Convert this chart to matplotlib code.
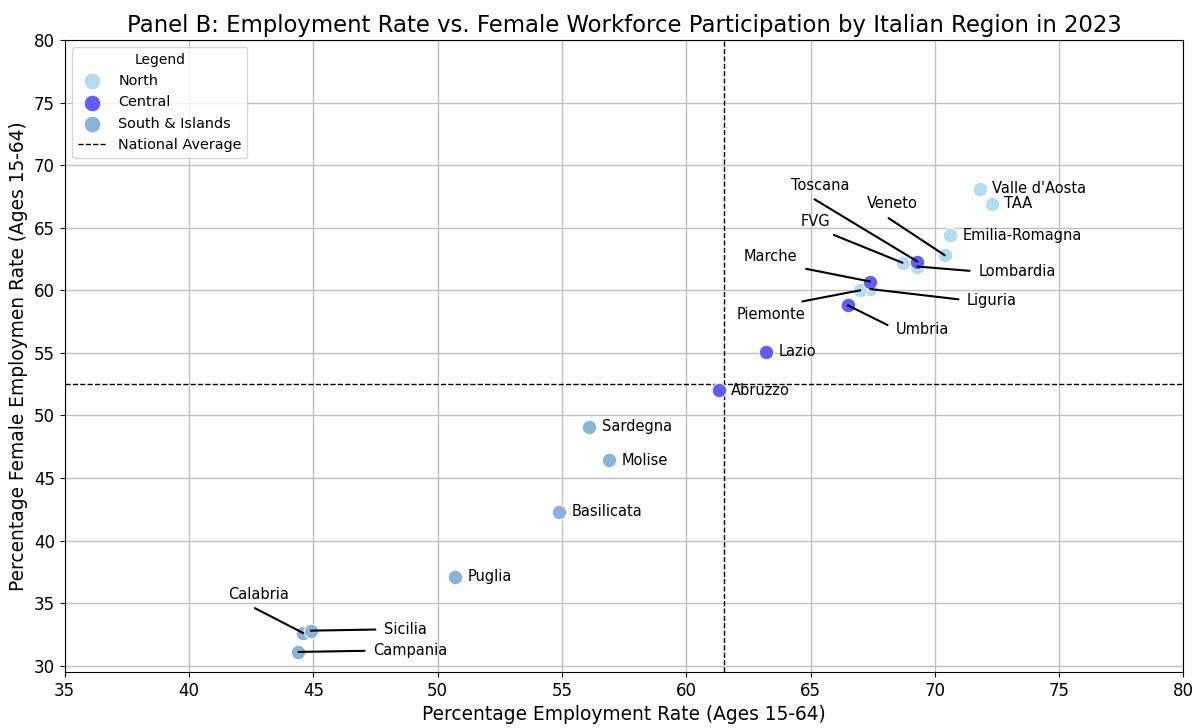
import matplotlib.pyplot as plt
from matplotlib.lines import Line2D

regions = ["Valle d'Aosta", "TAA", "Emilia-Romagna", "Veneto", "Toscana", "Lombardia",
           "FVG", "Marche", "Liguria", "Piemonte", "Umbria", "Lazio", "Abruzzo",
           "Sardegna", "Molise", "Basilicata", "Puglia", "Calabria", "Sicilia", "Campania"]
employment = [71.8, 72.3, 70.6, 70.4, 69.3, 69.3, 68.7, 67.4, 67.4, 67.0, 66.5, 63.2,
              61.3, 56.1, 56.9, 54.9, 50.7, 44.6, 44.9, 44.4]
female = [68.1, 66.9, 64.4, 62.8, 62.3, 61.9, 62.2, 60.7, 60.1, 60.0, 58.8, 55.1,
          52.0, 49.1, 46.4, 42.3, 37.1, 32.6, 32.8, 31.1]
area = ["North", "North", "North", "North", "Central", "North", "North", "Central",
        "North", "North", "Central", "Central", "Central", "South & Islands",
        "South & Islands", "South & Islands", "South & Islands", "South & Islands",
        "South & Islands", "South & Islands"]
nat_emp = 61.5
nat_fem = 52.5

colors = {"North": "#b3dcef", "Central": "#5f5fff", "South & Islands": "#88b4da"}

# where the crowded labels were pushed to (with leader lines)
label_pos = {
    "Veneto": (68.3, 66.9), "Toscana": (65.4, 68.4), "FVG": (65.2, 65.5),
    "Lombardia": (73.3, 61.5), "Marche": (63.4, 62.7), "Liguria": (72.3, 59.2),
    "Piemonte": (63.4, 58.1), "Umbria": (69.5, 56.9), "Calabria": (42.8, 35.7),
    "Sicilia": (48.7, 32.9), "Campania": (48.9, 31.2),
}

fig, ax = plt.subplots(figsize=(11.99, 7.28), dpi=100)
fig.subplots_adjust(left=0.054, right=0.987, top=0.945, bottom=0.077)

for grp in ["North", "Central", "South & Islands"]:
    xs = [x for x, a in zip(employment, area) if a == grp]
    ys = [y for y, a in zip(female, area) if a == grp]
    ax.scatter(xs, ys, s=110, color=colors[grp], edgecolor="white", linewidth=0.8,
               zorder=3, label=grp)

ax.axvline(nat_emp, color="black", ls="--", lw=1, zorder=2)
ax.axhline(nat_fem, color="black", ls="--", lw=1, zorder=2)

for name, x, y in zip(regions, employment, female):
    if name in label_pos:
        ax.annotate(name, xy=(x, y), xytext=label_pos[name], fontsize=10.5,
                    ha="center", va="center", zorder=4,
                    bbox=dict(boxstyle="square,pad=0.3", fc="none", ec="none"),
                    arrowprops=dict(arrowstyle="-", color="black", lw=1.5,
                                    relpos=(0, 0.5), shrinkA=3, shrinkB=0))
    else:
        ax.text(x + 0.5, y, name, fontsize=10.5, ha="left", va="center", zorder=4)

ax.set_xlim(35, 80)
ax.set_ylim(29.5, 80)
ax.set_xticks(range(35, 81, 5))
ax.set_yticks(range(30, 81, 5))
ax.tick_params(labelsize=12)
ax.grid(True, color="#c0c0c0", lw=1, zorder=0)
ax.set_axisbelow(True)

ax.set_title("Panel B: Employment Rate vs. Female Workforce Participation by Italian Region in 2023",
             fontsize=16.4)
ax.set_xlabel("Percentage Employment Rate (Ages 15-64)", fontsize=13.4)
ax.set_ylabel("Percentage Female Employmen Rate (Ages 15-64)", fontsize=13.4)

handles, labels = ax.get_legend_handles_labels()
handles.append(Line2D([0], [0], color="black", ls="--", lw=1))
labels.append("National Average")
ax.legend(handles, labels, title="Legend", loc="upper left", fontsize=10.4,
          title_fontsize=10, markerscale=1.15)

plt.savefig("out.png", dpi=100)
